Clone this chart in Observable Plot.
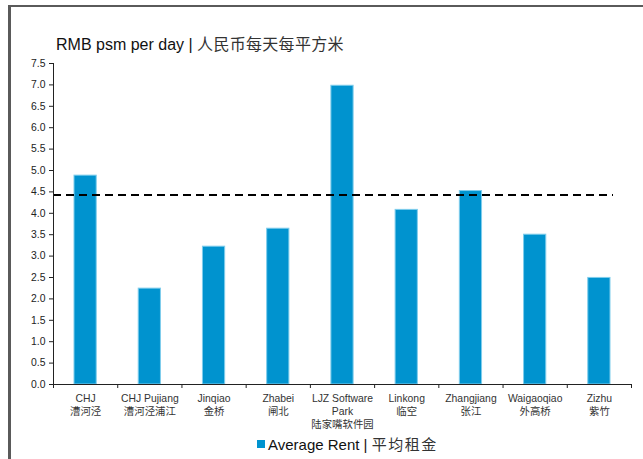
<!DOCTYPE html>
<html>
<head>
<meta charset="utf-8">
<script src="https://cdn.jsdelivr.net/npm/d3@7"></script>
<script src="https://cdn.jsdelivr.net/npm/@observablehq/plot@0.6"></script>
<style>
  html, body { margin: 0; padding: 0; background: #fff; }
  body { width: 643px; height: 459px; position: relative; overflow: hidden;
         font-family: "Liberation Sans", Arial, "Noto Sans CJK SC", sans-serif; }
  #frameL { position: absolute; left: 8px; top: 5px; width: 3px; height: 470px; background: #5a5a5a; }
  #frameT { position: absolute; left: 8px; top: 5px; width: 650px; height: 2px; background: #5a5a5a; }
  #chart { position: absolute; left: 0; top: 0; }
  #title { position: absolute; left: 56px; top: 31px; font-size: 16px; color: #111; white-space: nowrap; }
  #title .zh { font-family: "Noto Sans CJK SC", sans-serif; letter-spacing: 0.3px; color: #333; }
  #legend .zh { font-family: "Noto Sans CJK SC", sans-serif; letter-spacing: 1.5px; color: #333; }
  #legend { position: absolute; left: 257px; top: 433px; font-size: 15px; color: #111; white-space: nowrap; display: flex; align-items: center; }
  #legend .sw { display: inline-block; width: 8px; height: 8px; background: #0093cf; margin-right: 3px; }
</style>
</head>
<body>
<div id="frameL"></div>
<div id="frameT"></div>
<div id="chart"></div>
<div id="title">RMB psm per day | <span class="zh">人民币每天每平方米</span></div>
<div id="legend"><span class="sw"></span><span>Average Rent | <span class="zh">平均租金</span></span></div>
<script>
const categoriesEn = ["CHJ", "CHJ Pujiang", "Jinqiao", "Zhabei", "LJZ Software\nPark", "Linkong", "Zhangjiang", "Waigaoqiao", "Zizhu"];
const categoriesZh = ["漕河泾", "漕河泾浦江", "金桥", "闸北", "陆家嘴软件园", "临空", "张江", "外高桥", "紫竹"];
const averageRent = [4.88, 2.24, 3.22, 3.64, 6.98, 4.08, 4.52, 3.50, 2.49];
const referenceLine = 4.43;
const yTicks = [0, 0.5, 1, 1.5, 2, 2.5, 3, 3.5, 4, 4.5, 5, 5.5, 6, 6.5, 7, 7.5];

const data = categoriesEn.map((en, i) => ({ i, en, zh: categoriesZh[i], value: averageRent[i] }));
const bounds = d3.range(categoriesEn.length + 1);

const chart = Plot.plot({
  width: 643,
  height: 459,
  marginLeft: 53,
  marginRight: 12,
  marginTop: 63,
  marginBottom: 75,
  style: { fontFamily: "'Liberation Sans', Arial, 'Noto Sans CJK SC', sans-serif", background: "transparent", color: "#222" },
  x: { type: "linear", domain: [0, categoriesEn.length], axis: null, label: null },
  y: { domain: [0, 7.5], axis: null, label: null },
  marks: [
    Plot.rectY(data, { x1: d => d.i, x2: d => d.i + 1, y: "value", insetLeft: 21, insetRight: 21, fill: "#0093cf", stroke: "#7fcdec", strokeWidth: 1 }),
    Plot.ruleY([referenceLine], { stroke: "#000", strokeWidth: 2, strokeDasharray: "8,5", insetRight: 18 }),
    Plot.axisY({ ticks: yTicks, tickFormat: d3.format(".1f"), tickSize: 4, tickPadding: 4, fontSize: 10.4, stroke: "#222", fill: "#222", label: null }),
    Plot.axisX({ ticks: bounds, tickFormat: () => "", tickSize: 4, stroke: "#222", label: null }),
    Plot.ruleX([0], { y1: 0, y2: 7.5, stroke: "#222" }),
    Plot.ruleY([0], { stroke: "#222" }),
    Plot.text(data, { x: d => d.i + 0.5, y: 0, text: d => d.en + "\n" + d.zh, lineAnchor: "top", dy: 8, fontSize: 10.4, lineHeight: 1.25, fill: "#333" })
  ]
});
document.getElementById("chart").appendChild(chart);
</script>
</body>
</html>
